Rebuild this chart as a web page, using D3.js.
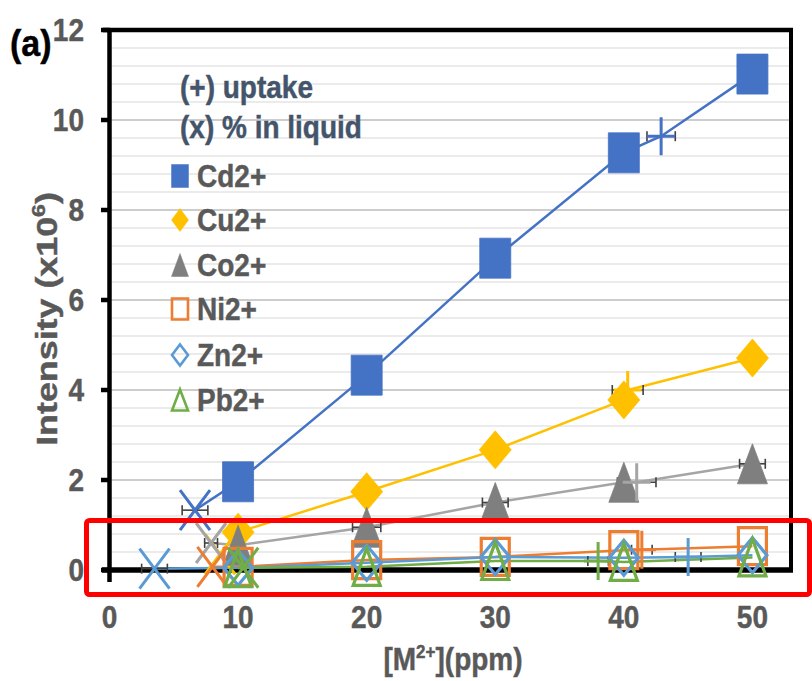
<!DOCTYPE html>
<html><head><meta charset="utf-8">
<script src="https://cdn.jsdelivr.net/npm/d3@7"></script>
<style>body{margin:0;background:#fff}svg{display:block}text{font-family:"Liberation Sans",Arial,sans-serif;font-weight:bold}</style>
</head><body><svg id="c" width="812" height="681"></svg>
<script>
// ---- data ----
const concentrations = [10, 20, 30, 40, 50];
const xTicks = [0, 10, 20, 30, 40, 50];
const yTicks = [0, 2, 4, 6, 8, 10, 12];
const metals = ["Cd2+", "Cu2+", "Co2+", "Ni2+", "Zn2+", "Pb2+"];
const cdValues = [1.96, 4.33, 6.93, 9.27, 11.02];
const cuValues = [0.84, 1.74, 2.67, 3.78, 4.71];
const coValues = [0.55, 0.95, 1.50, 1.95, 2.36];
const niValues = [0.07, 0.22, 0.29, 0.44, 0.53];
const znValues = [0.05, 0.16, 0.29, 0.27, 0.33];
const pbValues = [0.04, 0.07, 0.20, 0.18, 0.28];
// % in liquid (x) points: [conc, intensity, x error]
const liquidPoints = [[6.65, 1.33, 1.0], [8.6, 0.35, 0], [7.9, 0.6, 0.5], [8.0, 0.07, 0], [3.5, 0.03, 1.0], [10.4, 0.05, 0]];
// uptake (+) points: [conc, intensity, x error]
const uptakePoints = [[42.9, 9.64, 1.1], [40.3, 4.0, 1.2], [41.0, 1.95, 1.5], [41.4, 0.45, 0.8], [45.0, 0.29, 1.0], [38.0, 0.20, 0.8]];
// extra horizontal error bars on Co markers
const coErr = [0, 1.1, 1.0, 0, 1.0];

const seriesValues = [cdValues, cuValues, coValues, niValues, znValues, pbValues];
const lineColors = ["#4472C4", "#FFC000", "#A5A5A5", "#ED7D31", "#5B9BD5", "#70AD47"];
const markerColors = ["#4472C4", "#FFC000", "#7F7F7F", "#ED7D31", "#5B9BD5", "#70AD47"];
const markerShapes = ["square", "diamond", "triangle", "square", "diamond", "triangle"];
const markerFilled = [true, true, true, false, false, false];

const svg = d3.select("#c");
const x = d3.scaleLinear().domain([0, 53]).range([109.5, 791]);
const y = d3.scaleLinear().domain([0, 12]).range([570, 30]);
const SY = 1.1; // vertical stretch of horizontal text

function shape(kind, w, h) {
  const a = w / 2, b = h / 2;
  if (kind === "square") return `M${-a},${-b}H${a}V${b}H${-a}Z`;
  if (kind === "diamond") return `M0,${-b}L${a},0L0,${b}L${-a},0Z`;
  if (kind === "triangle") return `M0,${-b}L${a},${b}L${-a},${b}Z`;
  if (kind === "x") return `M${-a},${-b}L${a},${b}M${a},${-b}L${-a},${b}`;
  if (kind === "plus") return `M0,${-b}V${b}M${-a},0H${a}`;
}
function label(px, py, str, size, fill, anchor) {
  return svg.append("text").attr("transform", `translate(${px},${py}) scale(1,${SY})`)
    .attr("text-anchor", anchor || "start").attr("font-size", size).attr("fill", fill)
    .attr("stroke", fill).attr("stroke-width", 0.4).text(str);
}

// gridlines
const grid = svg.append("g");
d3.range(1, 30).forEach(i => {
  const v = i * 0.4;
  const major = i % 5 === 0;
  grid.append("line").attr("x1", x(0)).attr("x2", x(53)).attr("y1", y(v)).attr("y2", y(v))
    .attr("stroke", major ? "#cdcdcd" : "#e4e4e4").attr("stroke-width", major ? 2 : 1.6);
});

// frame / axes
const ax = svg.append("g").attr("stroke", "#000");
ax.append("line").attr("x1", 103).attr("x2", 793).attr("y1", y(12)).attr("y2", y(12)).attr("stroke-width", 4.5);
ax.append("line").attr("x1", 791).attr("x2", 791).attr("y1", y(12) - 2).attr("y2", y(0) + 2).attr("stroke-width", 4);
ax.append("line").attr("x1", 109.5).attr("x2", 109.5).attr("y1", y(12) - 2).attr("y2", 582).attr("stroke-width", 4.5);
ax.append("line").attr("x1", 102).attr("x2", 793).attr("y1", y(0)).attr("y2", y(0)).attr("stroke-width", 5.5);
yTicks.forEach(t => ax.append("line").attr("x1", 101).attr("x2", 110).attr("y1", y(t)).attr("y2", y(t)).attr("stroke-width", 4.5));

// tick labels
yTicks.forEach(t => label(84, y(t) + 11, t, 28, "#595959", "end"));
xTicks.forEach(t => label(x(t), 628, t, 28, "#595959", "middle"));

// axis titles
const xt = label(453, 670, "", 28, "#595959", "middle");
xt.append("tspan").text("[M");
xt.append("tspan").attr("font-size", 17).attr("dy", -11).text("2+");
xt.append("tspan").attr("dy", 11).text("](ppm)");
const yt = svg.append("text").attr("transform", "translate(57,319) rotate(-90) scale(1.28,1.05)")
  .attr("text-anchor", "middle").attr("font-size", 28).attr("fill", "#595959")
  .attr("stroke", "#595959").attr("stroke-width", 0.4);
yt.append("tspan").text("Intensity (x10");
yt.append("tspan").attr("font-size", 18).attr("dy", -11).text("6");
yt.append("tspan").attr("dy", 11).text(")");

label(10, 56, "(a)", 34, "#000");

// series lines
const line = d3.line().x(d => x(d[0])).y(d => y(d[1]));
seriesValues.forEach((vals, i) => {
  const pts = concentrations.map((c, j) => [c, vals[j]]);
  pts.push([liquidPoints[i][0], liquidPoints[i][1]]);
  pts.push([uptakePoints[i][0], uptakePoints[i][1]]);
  pts.sort((a, b) => a[0] - b[0]);
  svg.append("path").attr("d", line(pts)).attr("fill", "none")
    .attr("stroke", lineColors[i]).attr("stroke-width", 2.5);
});

// error bars
const eb = svg.append("g").attr("stroke", "#404040").attr("stroke-width", 1.6);
function errBar(cx, cy, e) {
  if (!e) return;
  eb.append("line").attr("x1", x(cx - e)).attr("x2", x(cx + e)).attr("y1", y(cy)).attr("y2", y(cy));
  [cx - e, cx + e].forEach(v => eb.append("line").attr("x1", x(v)).attr("x2", x(v)).attr("y1", y(cy) - 5).attr("y2", y(cy) + 5));
}
liquidPoints.forEach(p => errBar(p[0], p[1], p[2]));
uptakePoints.forEach(p => errBar(p[0], p[1], p[2]));
concentrations.forEach((c, j) => errBar(c, coValues[j], coErr[j]));

// markers
seriesValues.forEach((vals, i) => {
  const g = svg.append("g");
  const w = markerShapes[i] === "square" ? 31 : (markerShapes[i] === "diamond" ? 32 : 30);
  const h = markerShapes[i] === "diamond" ? 38 : 40;
  g.selectAll("path.m").data(concentrations.map((c, j) => [c, vals[j]])).join("path")
    .attr("transform", d => `translate(${x(d[0])},${y(d[1])})`)
    .attr("d", shape(markerShapes[i], markerFilled[i] ? w : w - 3, markerFilled[i] ? h : h - 3))
    .attr("fill", markerFilled[i] ? markerColors[i] : "none")
    .attr("stroke", markerColors[i]).attr("stroke-width", markerFilled[i] ? 0.8 : 3.2);
  g.append("path").attr("transform", `translate(${x(liquidPoints[i][0])},${y(liquidPoints[i][1])})`)
    .attr("d", shape("x", 30, 40)).attr("stroke", lineColors[i]).attr("stroke-width", 3).attr("fill", "none");
  g.append("path").attr("transform", `translate(${x(uptakePoints[i][0])},${y(uptakePoints[i][1])})`)
    .attr("d", shape("plus", 28, 38)).attr("stroke", lineColors[i]).attr("stroke-width", 3).attr("fill", "none");
});

// legend
label(180, 98, "(+) uptake", 28, "#44546A");
label(180, 138, "(x) % in liquid", 28, "#44546A");
const legBase = [187, 231, 276, 320, 366, 411];
metals.forEach((m, i) => {
  const cy = legBase[i] - 11;
  svg.append("path").attr("transform", `translate(180,${cy})`)
    .attr("d", shape(markerShapes[i], markerFilled[i] ? 17 : 16, markerFilled[i] ? 23 : 21))
    .attr("fill", markerFilled[i] ? markerColors[i] : "none")
    .attr("stroke", markerColors[i]).attr("stroke-width", markerFilled[i] ? 0.5 : 2.6);
  label(197, legBase[i], m, 28, "#595959");
});

// red highlight box
svg.append("rect").attr("x", 86.5).attr("y", 520.5).attr("width", 723).attr("height", 74).attr("rx", 3)
  .attr("fill", "none").attr("stroke", "#FF0000").attr("stroke-width", 5);
</script></body></html>
